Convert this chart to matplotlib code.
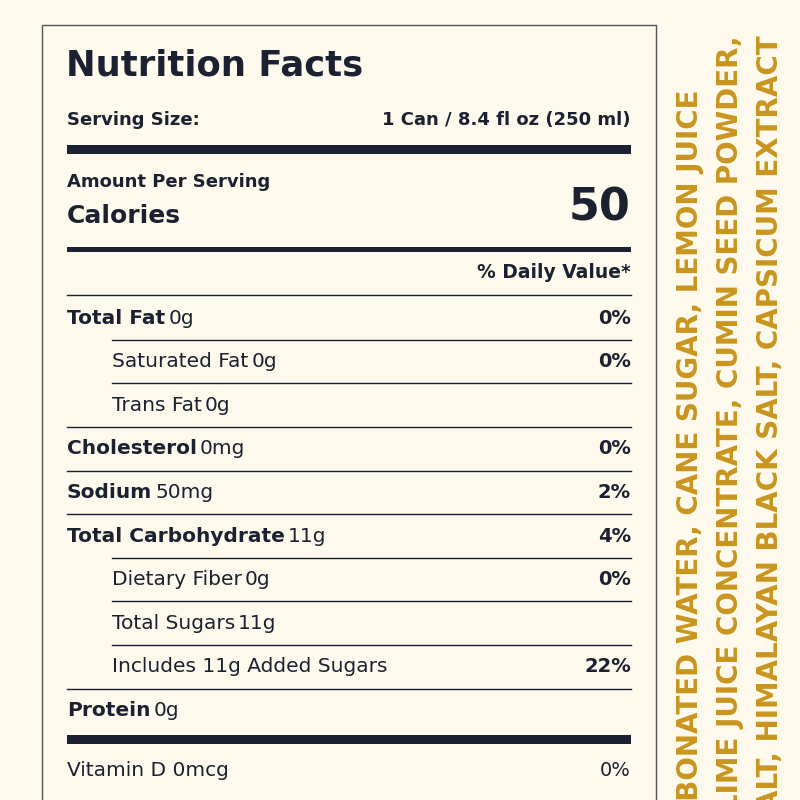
import matplotlib.pyplot as plt

navy = '#1b2130'
gold = '#c8951f'
bg = '#fdf9ec'
fam = ['DejaVu Sans']

names = ['Total Fat', 'Saturated Fat', 'Trans Fat', 'Cholesterol', 'Sodium',
         'Total Carbohydrate', 'Dietary Fiber', 'Total Sugars', 'Includes 11g Added Sugars', 'Protein']
amounts = ['0g', '0g', '0g', '0mg', '50mg', '11g', '0g', '11g', '', '0g']
dv = ['0%', '0%', '', '0%', '2%', '4%', '0%', '', '22%', '']
bold = [True, False, False, True, True, True, False, False, False, True]
indent = [False, True, True, False, False, False, True, True, True, False]
ingredients = ['CARBONATED WATER, CANE SUGAR, LEMON JUICE',
               'LIME JUICE CONCENTRATE, CUMIN SEED POWDER,',
               'SEA SALT, HIMALAYAN BLACK SALT, CAPSICUM EXTRACT']

fig = plt.figure(figsize=(8, 8), dpi=100, facecolor=bg)
ax = fig.add_axes([0, 0, 1, 1])
ax.set_xlim(0, 800)
ax.set_ylim(800, 0)
ax.axis('off')
ax.set_facecolor(bg)
r = fig.canvas.get_renderer()

ax.plot([42, 42, 656, 656], [805, 25, 25, 805], color='#555555', lw=1)

def txt(x, y, s, size, weight='normal', ha='left'):
    return ax.text(x, y, s, fontsize=size, fontweight=weight, ha=ha, va='center',
                   color=navy, family=fam)

txt(66, 65, 'Nutrition Facts', 25.5, 'bold')
txt(67, 120, 'Serving Size:', 13, 'semibold')
txt(631, 120, '1 Can / 8.4 fl oz (250 ml)', 13, 'semibold', 'right')
ax.add_patch(plt.Rectangle((67, 145), 564, 9, color=navy, lw=0))
txt(67, 182, 'Amount Per Serving', 13, 'semibold')
txt(67, 216, 'Calories', 18, 'bold')
txt(631, 208, '50', 32, 'bold', 'right')
ax.add_patch(plt.Rectangle((67, 247), 564, 4.5, color=navy, lw=0))
txt(631, 272, '% Daily Value*', 13.5, 'semibold', 'right')
ax.plot([67, 631], [295, 295], color=navy, lw=1)

y0, step = 318, 43.6
for i, n in enumerate(names):
    y = y0 + i * step
    x = 112 if indent[i] else 67
    t = txt(x, y, n, 14.5, 'bold' if bold[i] else 'normal')
    if amounts[i]:
        bb = t.get_window_extent(r)
        txt(bb.x1 + 3, y, amounts[i], 14.5)
    if dv[i]:
        txt(631, y, dv[i], 14, 'bold', 'right')
    if i < len(names) - 1:
        xs = 112 if indent[i + 1] else 67
        ax.plot([xs, 631], [y + step / 2, y + step / 2], color=navy, lw=1)

ax.add_patch(plt.Rectangle((67, 735), 564, 9, color=navy, lw=0))
txt(67, 770, 'Vitamin D 0mcg', 14.5)
txt(631, 770, '0%', 14, 'normal', 'right')

for x, top, s in zip([690, 730, 770], [90, 35, 35], ingredients):
    ax.text(x, top, s, rotation=90, rotation_mode='anchor', ha='right', va='center',
            fontsize=20, fontweight='bold', color=gold, family=fam)

fig.savefig('out.png', dpi=100, facecolor=bg)
